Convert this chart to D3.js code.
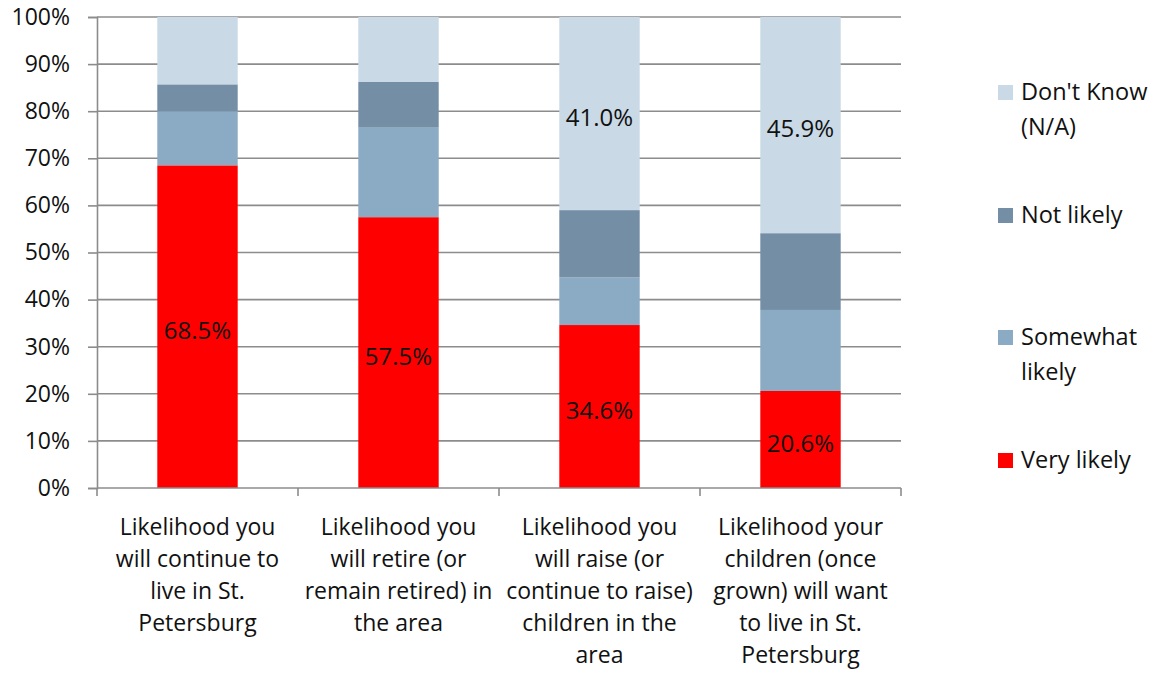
<!DOCTYPE html>
<html>
<head>
<meta charset="utf-8">
<script src="https://cdn.jsdelivr.net/npm/d3@7"></script>
<style>
  html, body { margin: 0; padding: 0; background: #fff; }
  svg { display: block; font-family: "Open Sans", "Noto Sans", sans-serif; }
</style>
</head>
<body>
<svg id="chart" width="1157" height="677"></svg>
<script>
// Survey categories (line breaks as drawn under the axis)
const categories = [
  "Likelihood you\nwill continue to\nlive in St.\nPetersburg",
  "Likelihood you\nwill retire (or\nremain retired) in\nthe area",
  "Likelihood you\nwill raise (or\ncontinue to raise)\nchildren in the\narea",
  "Likelihood your\nchildren (once\ngrown) will want\nto live in St.\nPetersburg"
];

// Series, stacked bottom to top (percent of respondents)
const seriesNames = ["Very likely", "Somewhat likely", "Not likely", "Don't Know (N/A)"];
const veryLikely     = [68.5, 57.5, 34.6, 20.6];
const somewhatLikely = [11.5, 19.0, 10.1, 17.2];
const notLikely      = [5.7, 9.7, 14.3, 16.3];
const dontKnow       = [14.3, 13.8, 41.0, 45.9];

// Which segments carry a value label
const labelVery = [true, true, true, true];
const labelDontKnow = [false, false, true, true];

const yTicks = [0, 10, 20, 30, 40, 50, 60, 70, 80, 90, 100];

const colors = {
  "Very likely": "#FF0000",
  "Somewhat likely": "#8BAAC3",
  "Not likely": "#748EA6",
  "Don't Know (N/A)": "#C9D9E6"
};

const rows = categories.map((c, i) => ({
  category: c,
  "Very likely": veryLikely[i],
  "Somewhat likely": somewhatLikely[i],
  "Not likely": notLikely[i],
  "Don't Know (N/A)": dontKnow[i]
}));
const labelFlags = {
  "Very likely": labelVery,
  "Don't Know (N/A)": labelDontKnow
};

const svg = d3.select("#chart");
const margin = { left: 97, top: 17, right: 256, bottom: 189 };
const width = 1157 - margin.left - margin.right;
const height = 677 - margin.top - margin.bottom;
const g = svg.append("g").attr("transform", `translate(${margin.left},${margin.top})`);

const x = d3.scaleBand().domain(categories).range([0, width]).padding(0);
const y = d3.scaleLinear().domain([0, 100]).range([height, 0]);

const gridColor = "#8C8C8C";
const textColor = "#111";
const fontSize = 23;

// Horizontal gridlines
g.append("g")
  .selectAll("line")
  .data(yTicks.filter(t => t > 0))
  .join("line")
  .attr("x1", 0).attr("x2", width)
  .attr("y1", d => y(d)).attr("y2", d => y(d))
  .attr("stroke", gridColor)
  .attr("stroke-width", 1.6);

// Stacked bars
const stack = d3.stack().keys(seriesNames);
const layers = stack(rows);
const barW = x.bandwidth() * 0.4;

const layerG = g.append("g")
  .selectAll("g")
  .data(layers)
  .join("g")
  .attr("fill", d => colors[d.key]);

layerG.selectAll("rect")
  .data(d => d)
  .join("rect")
  .attr("x", d => x(d.data.category) + (x.bandwidth() - barW) / 2)
  .attr("width", barW)
  .attr("y", d => y(d[1]))
  .attr("height", d => y(d[0]) - y(d[1]));

// Value labels centred in their segments
layers.forEach(layer => {
  const flags = labelFlags[layer.key];
  if (!flags) return;
  layer.forEach((d, i) => {
    if (!flags[i]) return;
    g.append("text")
      .attr("x", x(d.data.category) + x.bandwidth() / 2)
      .attr("y", y((d[0] + d[1]) / 2) + 4)
      .attr("dy", "0.35em")
      .attr("text-anchor", "middle")
      .attr("font-size", 24)
      .attr("fill", textColor)
      .text(d3.format(".1f")(d.data[layer.key]) + "%");
  });
});

// Y axis
const yAxis = g.append("g")
  .call(d3.axisLeft(y).tickValues(yTicks).tickFormat(d => d + "%").tickSize(9).tickPadding(18));
yAxis.select(".domain").attr("stroke", gridColor).attr("stroke-width", 1.6);
yAxis.selectAll(".tick line").attr("stroke", gridColor).attr("stroke-width", 1.6);
yAxis.selectAll(".tick text")
  .attr("font-size", fontSize)
  .attr("font-family", "'Open Sans', 'Noto Sans', sans-serif")
  .attr("fill", textColor);

// X axis baseline with tick marks at category boundaries
const xAxisG = g.append("g").attr("transform", `translate(0,${height})`);
xAxisG.append("line")
  .attr("x1", 0).attr("x2", width)
  .attr("stroke", gridColor).attr("stroke-width", 1.6);
const boundaries = categories.map(c => x(c)).concat([x(categories[categories.length - 1]) + x.bandwidth()]);
xAxisG.selectAll("line.tick")
  .data(boundaries)
  .join("line")
  .attr("class", "tick")
  .attr("x1", d => d).attr("x2", d => d)
  .attr("y1", 0).attr("y2", 8)
  .attr("stroke", gridColor).attr("stroke-width", 1.6);

// Category labels, multi-line
categories.forEach(c => {
  const t = xAxisG.append("text")
    .attr("x", x(c) + x.bandwidth() / 2)
    .attr("y", 47)
    .attr("text-anchor", "middle")
    .attr("font-size", fontSize)
    .attr("fill", textColor);
  c.split("\n").forEach((line, i) => {
    t.append("tspan")
      .attr("x", x(c) + x.bandwidth() / 2)
      .attr("dy", i === 0 ? 0 : 32)
      .text(line);
  });
});

// Legend (top to bottom: reverse stacking order)
const legendItems = [
  { key: "Don't Know (N/A)", lines: ["Don't Know", "(N/A)"], y: 92 },
  { key: "Not likely", lines: ["Not likely"], y: 215 },
  { key: "Somewhat likely", lines: ["Somewhat", "likely"], y: 337 },
  { key: "Very likely", lines: ["Very likely"], y: 460 }
];
const legend = svg.append("g");
legendItems.forEach(item => {
  legend.append("rect")
    .attr("x", 998).attr("y", item.y - 7)
    .attr("width", 15).attr("height", 15)
    .attr("fill", colors[item.key]);
  const t = legend.append("text")
    .attr("x", 1021).attr("y", item.y)
    .attr("font-size", 23.5)
    .attr("fill", textColor);
  item.lines.forEach((line, i) => {
    t.append("tspan").attr("x", 1021).attr("dy", i === 0 ? "0.35em" : 35).text(line);
  });
});
</script>
</body>
</html>
